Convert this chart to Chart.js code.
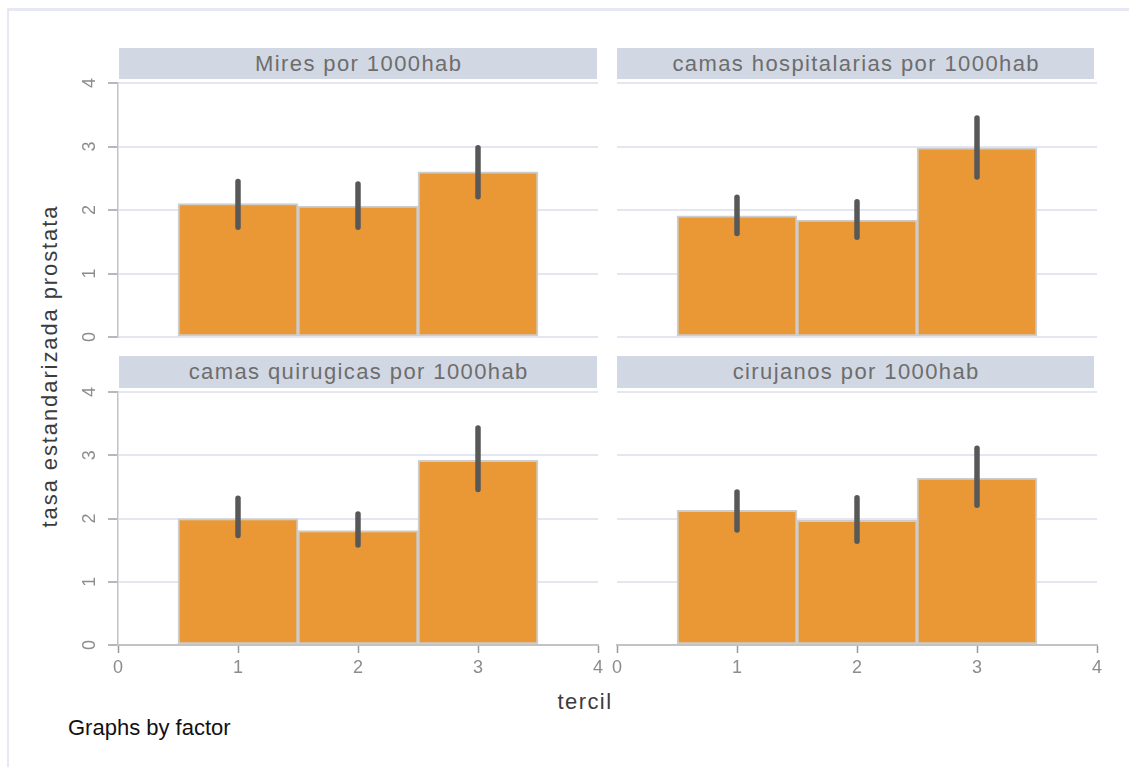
<!DOCTYPE html>
<html>
<head>
<meta charset="utf-8">
<title>tasa estandarizada prostata por tercil</title>
<script src="https://cdn.jsdelivr.net/npm/chart.js@4.4.1/dist/chart.umd.min.js"></script>
<style>
  body { margin: 0; background: #fff; }
  #page { position: relative; width: 1129px; height: 767px; overflow: hidden; font-family: "Liberation Sans", Arial, sans-serif; }
  #frame { position: absolute; left: 7px; top: 8px; right: -10px; bottom: -10px; border-left: 2px solid #e6e9f4; border-top: 3px solid #e6e9f4; }
  canvas { position: absolute; }
  .strip { position: absolute; background: #d2d8e3; color: #6d6d6d; font-size: 22px; letter-spacing: 1.4px; padding-left: 1.4px; box-sizing: border-box; text-align: center; white-space: nowrap; }
  .label { position: absolute; white-space: nowrap; transform: translate(-50%, -50%); }
  #ytitle { left: 50px; top: 366px; transform: translate(-50%, -50%) rotate(-90deg); font-size: 22px; letter-spacing: 1.9px; color: #3c3c3c; }
  #xtitle { left: 585px; top: 702px; font-size: 22px; letter-spacing: 1.4px; color: #3c3c3c; }
  #note { position: absolute; left: 68px; top: 715px; font-size: 22px; line-height: 26px; color: #111; }
</style>
</head>
<body>
<div id="page">
  <div id="frame"></div>
  <div class="label" id="ytitle">tasa estandarizada prostata</div>
  <div class="label" id="xtitle">tercil</div>
  <div id="note">Graphs by factor</div>
</div>
<script>
// categorias (terciles) y ticks
const tercil = [1, 2, 3];
const xTicks = [0, 1, 2, 3, 4];
const yTicks = [0, 1, 2, 3, 4];
const titulos = ['Mires por 1000hab', 'camas hospitalarias por 1000hab', 'camas quirugicas por 1000hab', 'cirujanos por 1000hab'];

// media de la tasa por tercil, con limites del intervalo
const mires = [2.10, 2.06, 2.60];
const miresLo = [1.73, 1.73, 2.21];
const miresHi = [2.45, 2.41, 2.98];

const hospit = [1.91, 1.84, 2.98];
const hospitLo = [1.63, 1.57, 2.52];
const hospitHi = [2.20, 2.13, 3.45];

const quirur = [2.00, 1.81, 2.92];
const quirurLo = [1.73, 1.58, 2.46];
const quirurHi = [2.32, 2.07, 3.43];

const ciruj = [2.13, 1.97, 2.64];
const cirujLo = [1.82, 1.64, 2.21];
const cirujHi = [2.42, 2.33, 3.11];

const FONT = '"Liberation Sans", Arial, sans-serif';

// barras de error: se dibujan con las escalas del grafico
const errorBars = {
  id: 'errorBars',
  afterDatasetsDraw(chart, args, opts) {
    const ctx = chart.ctx;
    const x = chart.scales.x, y = chart.scales.y;
    ctx.save();
    ctx.strokeStyle = '#585858';
    ctx.lineWidth = 5.5;
    ctx.lineCap = 'round';
    opts.lo.forEach((lo, i) => {
      const px = x.getPixelForValue(opts.at[i]);
      ctx.beginPath();
      ctx.moveTo(px, y.getPixelForValue(lo));
      ctx.lineTo(px, y.getPixelForValue(opts.hi[i]));
      ctx.stroke();
    });
    ctx.restore();
  }
};

const panels = [
  { title: titulos[0], means: mires, lo: miresLo, hi: miresHi, area: [118, 83, 598, 337], strip: [119, 48, 597, 79], yAxis: true, xAxis: false },
  { title: titulos[1], means: hospit, lo: hospitLo, hi: hospitHi, area: [617, 83, 1097, 337], strip: [617, 48, 1094, 79], yAxis: false, xAxis: false },
  { title: titulos[2], means: quirur, lo: quirurLo, hi: quirurHi, area: [118, 392, 598, 645], strip: [119, 356, 597, 388], yAxis: true, xAxis: true },
  { title: titulos[3], means: ciruj, lo: cirujLo, hi: cirujHi, area: [617, 392, 1097, 645], strip: [617, 356, 1094, 388], yAxis: false, xAxis: true }
];

const page = document.getElementById('page');

panels.forEach(p => {
  const [L, T, R, B] = p.area;
  // padding amplio arriba para que las etiquetas del eje y no muevan el area
  const padL = 80, padT = 40, padR = 20, padB = 50;
  const yw = p.yAxis ? 40 : 0;
  const xh = p.xAxis ? 40 : 0;

  const strip = document.createElement('div');
  strip.className = 'strip';
  strip.style.left = p.strip[0] + 'px';
  strip.style.top = p.strip[1] + 'px';
  strip.style.width = (p.strip[2] - p.strip[0]) + 'px';
  strip.style.height = (p.strip[3] - p.strip[1]) + 'px';
  strip.style.lineHeight = (p.strip[3] - p.strip[1]) + 'px';
  strip.textContent = p.title;

  const canvas = document.createElement('canvas');
  canvas.width = (R - L) + padL + padR;
  canvas.height = (B - T) + padT + padB;
  canvas.style.left = (L - padL) + 'px';
  canvas.style.top = (T - padT) + 'px';
  page.appendChild(canvas);
  page.appendChild(strip);

  new Chart(canvas.getContext('2d'), {
    type: 'bar',
    data: {
      datasets: [{
        data: tercil.map((t, i) => ({ x: t, y: p.means[i] })),
        backgroundColor: '#e99835',
        borderColor: '#cdcdcd',
        borderWidth: 2,
        borderSkipped: false,
        barPercentage: 1,
        categoryPercentage: 1
      }]
    },
    options: {
      responsive: false,
      animation: false,
      devicePixelRatio: 1,
      layout: { padding: { left: padL - yw, top: padT, right: padR, bottom: padB - xh } },
      plugins: {
        legend: { display: false },
        tooltip: { enabled: false },
        errorBars: { at: tercil, lo: p.lo, hi: p.hi }
      },
      scales: {
        x: {
          type: 'linear',
          min: xTicks[0],
          max: xTicks[xTicks.length - 1],
          offset: false,
          display: p.xAxis,
          afterFit: s => { s.height = xh; },
          afterBuildTicks: s => { s.ticks = xTicks.map(v => ({ value: v })); },
          grid: { display: true, drawOnChartArea: false, drawTicks: true, tickLength: 8, tickColor: '#9a9a9a', tickWidth: 1.5, offset: false },
          border: { display: true, color: '#c3c3c3', width: 2, z: 1 },
          ticks: { color: '#8c8c8c', font: { family: FONT, size: 18 }, padding: 4, maxRotation: 0 }
        },
        y: {
          min: yTicks[0],
          max: yTicks[yTicks.length - 1],
          afterFit: s => { s.width = yw; },
          afterBuildTicks: s => { s.ticks = yTicks.map(v => ({ value: v })); },
          grid: { color: '#e4e7f2', lineWidth: 2, drawTicks: p.yAxis, tickLength: 10, tickColor: '#a0a0a0', tickWidth: 1.5 },
          border: { display: p.yAxis, color: '#c3c3c3', width: 1.5 },
          ticks: { display: p.yAxis, color: '#8c8c8c', font: { family: FONT, size: 18 }, padding: 13, minRotation: 90, maxRotation: 90, crossAlign: 'center' }
        }
      }
    },
    plugins: [errorBars]
  });
});
</script>
</body>
</html>
